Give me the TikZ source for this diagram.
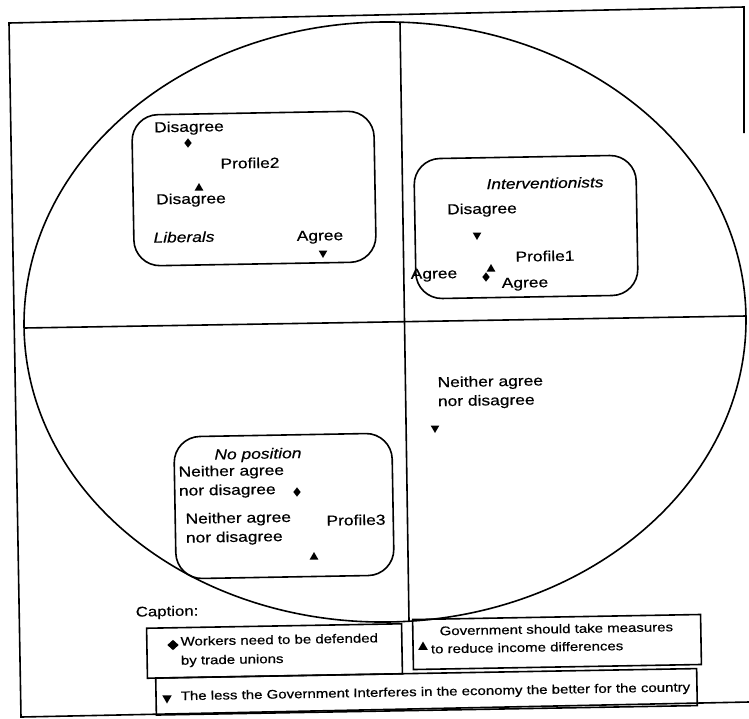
\documentclass[tikz,border=0pt]{standalone}
\usepackage{fontspec}
\setmainfont{Liberation Sans}[FakeStretch=1.2,FakeBold=0.5]
\usetikzlibrary{shapes.geometric}
\begin{document}
\begin{tikzpicture}[x=1pt,y=-1pt,line width=1.6pt,
  lab/.style={inner sep=0pt,rotate=1,font=\fontsize{14.5}{19}\selectfont},
  ital/.style={lab,font=\fontsize{14.5}{19}\selectfont\itshape},
  multi/.style={lab,align=left,anchor=west},
  captxt/.style={inner sep=0pt,rotate=1,align=left,anchor=west,font=\fontsize{12.5}{19}\selectfont},
  rbox/.style={draw,rounded corners=26pt,rotate=1,inner sep=0pt},
  cbox/.style={draw,rotate=1,inner sep=0pt},
  mdia/.style={diamond,fill=black,draw=none,inner sep=0pt,minimum width=8pt,minimum height=10pt},
  mup/.style={regular polygon,regular polygon sides=3,fill=black,draw=none,inner sep=0pt,minimum size=10pt},
  mdown/.style={mup,shape border rotate=180}]
\useasboundingbox (0,0) rectangle (749,718);
% outer frame
\coordinate (fRB) at (744,133);
\coordinate (fTR) at (744,7);
\coordinate (fTL) at (9,23);
\coordinate (fBL) at (21,717);
\coordinate (fBR) at (749,702);
\draw (fRB) -- (fTR) -- (fTL) -- (fBL) -- (fBR);
% ellipse and axes
\coordinate (c) at (385,322);
\draw[rotate around={1:(c)}] (c) ellipse [x radius=361pt, y radius=300pt];
\coordinate (hL) at (24,328);
\coordinate (hR) at (746,316);
\coordinate (vT) at (400,22);
\coordinate (vB) at (409,621);
\draw (hL) -- (hR);
\draw (vT) -- (vB);
% group boxes
\node[rbox,minimum width=242pt,minimum height=151pt] (lib) at (254,188.5) {};
\node[rbox,minimum width=222pt,minimum height=140pt] (int) at (526,227) {};
\node[rbox,minimum width=218pt,minimum height=142pt] (nop) at (284,506) {};
% Liberals
\node[lab] (l1) at (189,128) {Disagree};
\node[mdia] (l1m) at (188,143) {};
\node[lab] (p2) at (250,163) {Profile2};
\node[mup] (l2m) at (199,188) {};
\node[lab] (l2) at (191,200) {Disagree};
\node[ital] (libt) at (184,237) {Liberals};
\node[lab] (l3) at (320,237) {Agree};
\node[mdown] (l3m) at (323,253) {};
% Interventionists
\node[ital] (intt) at (545,183) {Interventionists};
\node[lab] (i1) at (482,210) {Disagree};
\node[mdown] (i1m) at (477,235) {};
\node[lab] (p1) at (545,256) {Profile1};
\node[lab] (i2) at (434,275) {Agree};
\node[mup] (i3m) at (491,269) {};
\node[mdia] (i2m) at (486,277) {};
\node[lab] (i3) at (525,284) {Agree};
% outside point
\node[multi] (n1) at (437,393) {Neither agree\\nor disagree};
\node[mdown] (n1m) at (435,428) {};
% No position
\node[ital] (nopt) at (258,455) {No position};
\node[multi] (np1) at (178,482.5) {Neither agree\\nor disagree};
\node[mdia] (np1m) at (297,492) {};
\node[multi] (np2) at (185,529.5) {Neither agree\\nor disagree};
\node[lab] (p3) at (356,520) {Profile3};
\node[mup] (np2m) at (314,557) {};
% caption
\node[lab,anchor=west,font=\fontsize{14}{19}\selectfont] (capt) at (135,613) {Caption:};
\node[cbox,minimum width=255pt,minimum height=50pt] (cap1) at (274.5,651) {};
\node[cbox,minimum width=288pt,minimum height=50pt] (cap2) at (557,642) {};
\node[cbox,minimum width=541pt,minimum height=37pt] (cap3) at (426.5,691.8) {};
\node[mdia,minimum width=12pt,minimum height=11pt] (k1) at (173,645) {};
\node[captxt] (t1) at (180,652) {Workers need to be defended\\by trade unions};
\node[mup,minimum size=11pt] (k2) at (423,647) {};
\node[captxt,font=\fontsize{12.5}{18}\selectfont] (t2) at (430,640) {\hspace*{9pt}Government should take measures\\to reduce income differences};
\node[mdown,minimum size=11pt] (k3) at (167,698) {};
\node[captxt] (t3) at (180,697) {The less the Government Interferes in the economy the better for the country};
\end{tikzpicture}
\end{document}
